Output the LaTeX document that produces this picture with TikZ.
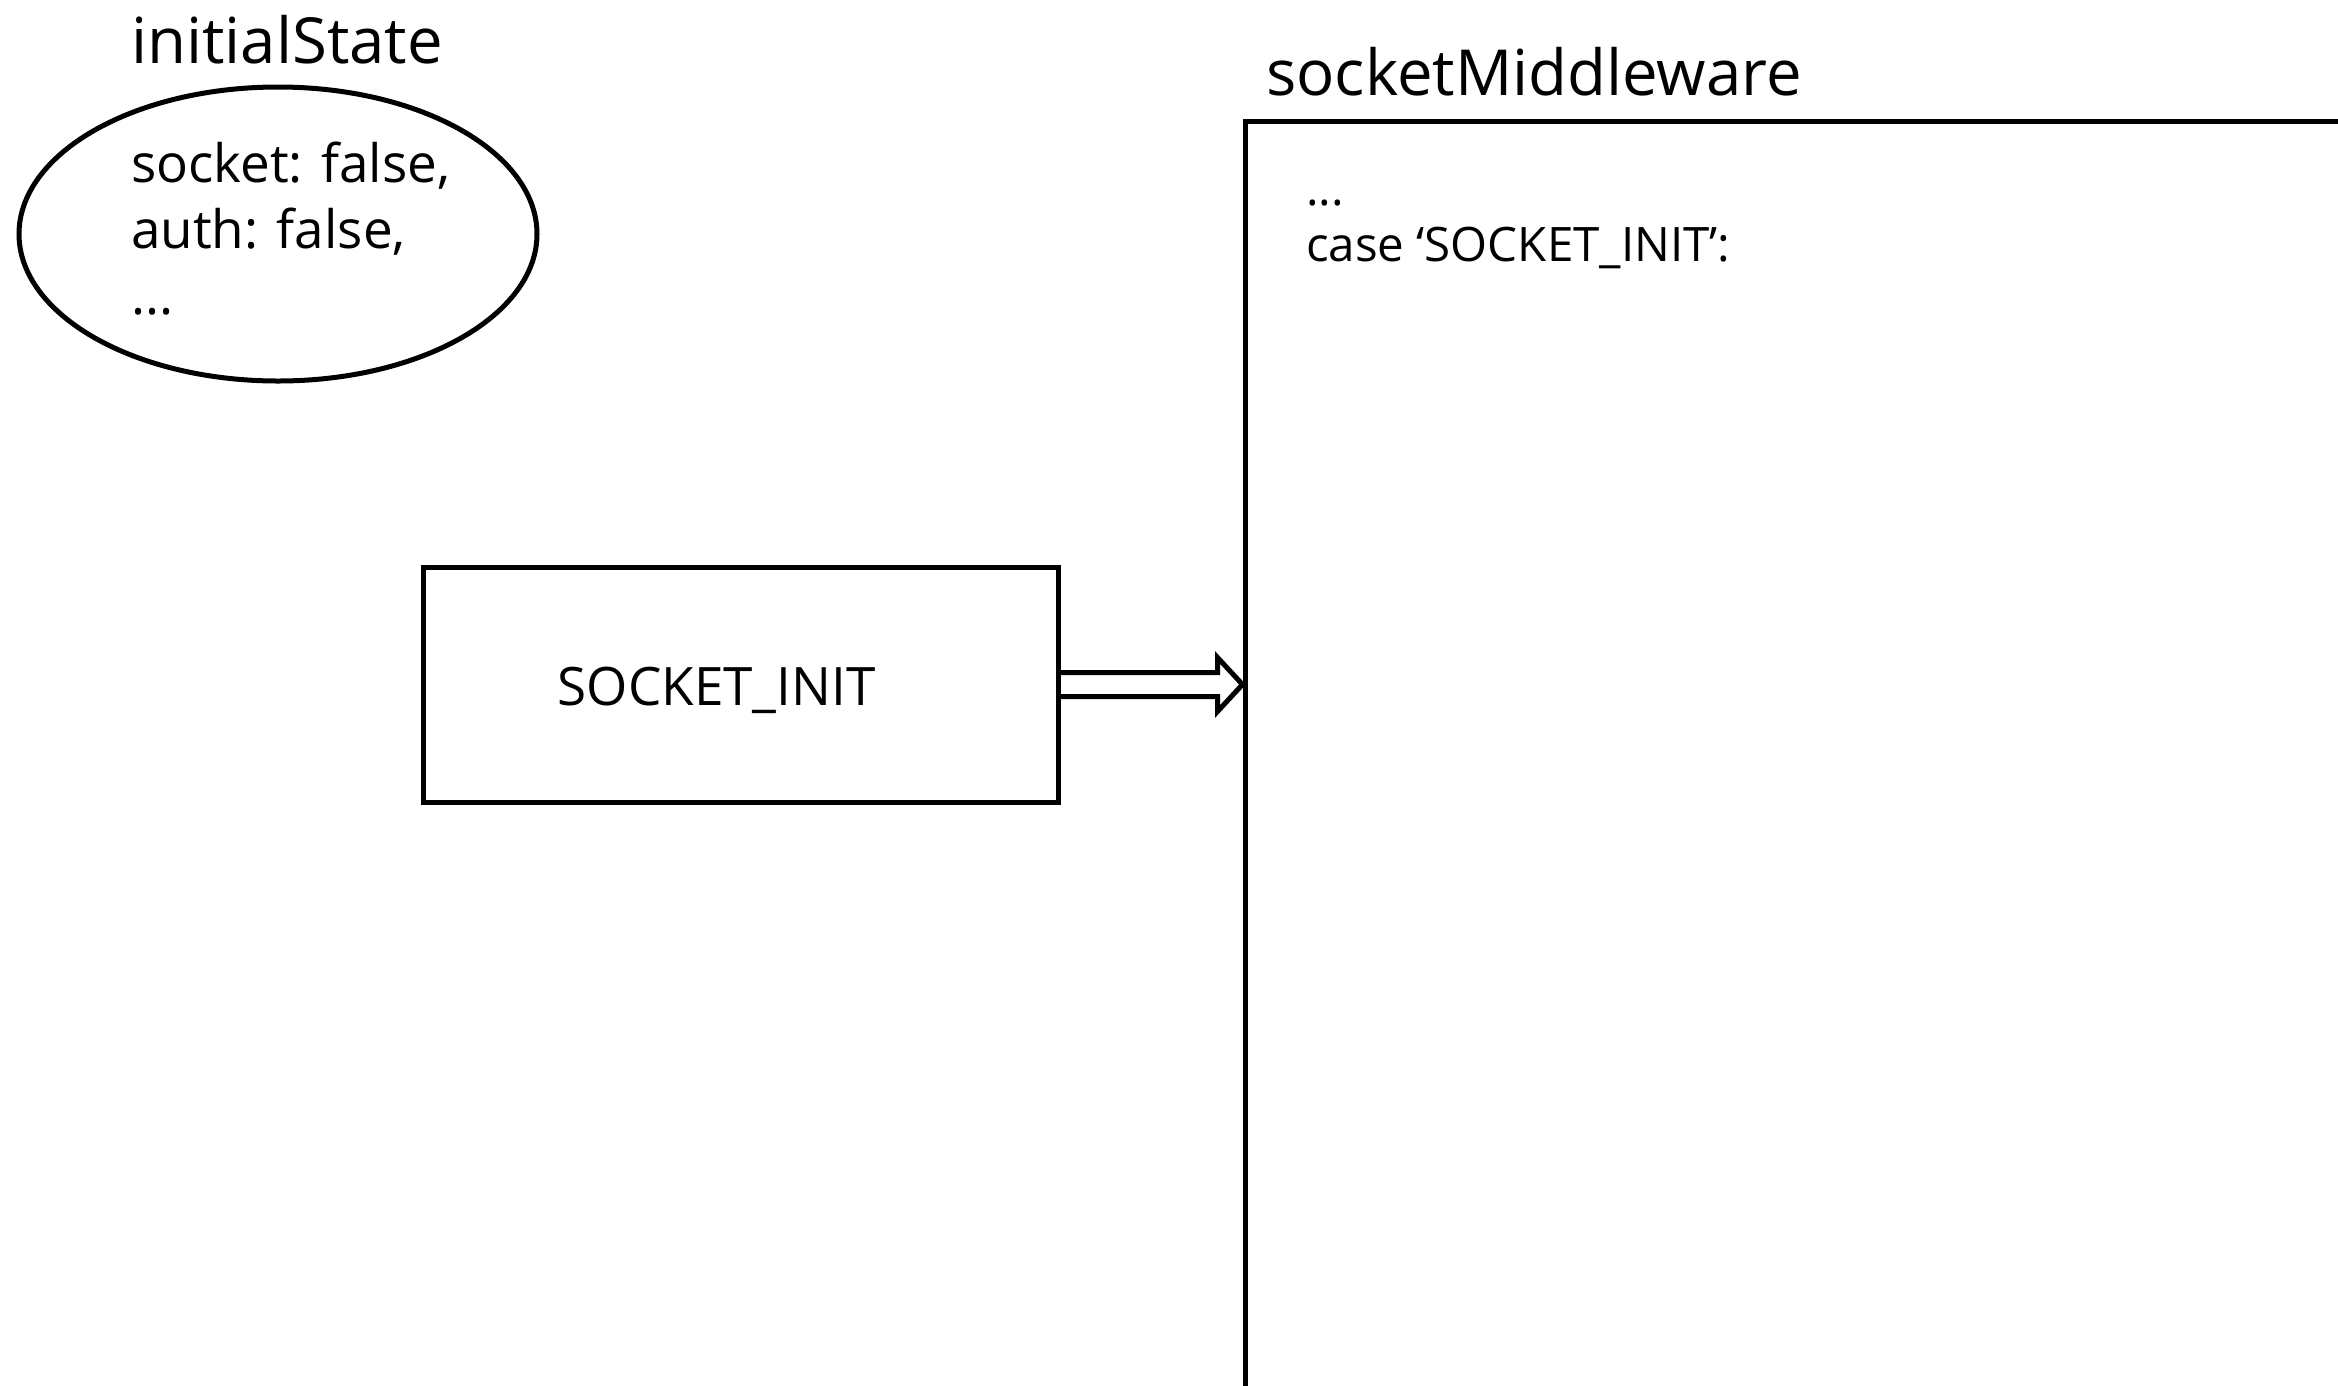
\documentclass[tikz,border=0pt]{standalone}
\usepackage{fontspec}
\setmainfont{Open Sans}
\usetikzlibrary{shapes.geometric,calc}
\tikzset{
  shape line/.style={draw=black, line width=5pt},
  title text/.style={inner sep=0pt, anchor=base west, font=\fontsize{63.5}{76}\selectfont},
  body text/.style={inner sep=0pt, anchor=base west, align=left, font=\fontsize{53}{66}\selectfont},
  code text/.style={inner sep=0pt, anchor=base west, align=left, font=\fontsize{47.5}{56}\selectfont},
}
\begin{document}
\begin{tikzpicture}[x=1pt,y=-1pt]
\useasboundingbox (0,0) rectangle (2338,1385);
\clip (0,0) rectangle (2338,1385);
% initial state
\node[title text] (sttitle) at (131,63) {initialState};
\node[shape line, ellipse, minimum width=518pt, minimum height=294pt, inner sep=0pt] (st) at (278,234) {};
\node[body text] (sttext) at (131,314) {socket: false,\\auth: false,\\...};
% middleware
\node[title text] (mwtitle) at (1266,95) {socketMiddleware};
\node[shape line, rectangle, minimum width=1155pt, minimum height=1329pt, inner sep=0pt] (mw) at (1822.5,785.5) {};
\node[code text] (mwtext) at (1306,261) {...\\case ‘SOCKET\_INIT’:};
% action box
\node[shape line, rectangle, minimum width=635pt, minimum height=235pt, inner sep=0pt] (init) at (740.5,684.5) {};
\node[inner sep=0pt, anchor=base, font=\fontsize{53}{65}\selectfont] (initlabel) at (716.5,705) {SOCKET\_INIT};
% hollow arrow
\coordinate (tip) at (mw.west |- init.east);
\draw[shape line, line join=miter]
  ($(init.east)+(0,-12)$) -- ($(tip)+(-25,-12)$) -- ($(tip)+(-25,-27)$)
  -- (tip) -- ($(tip)+(-25,27)$) -- ($(tip)+(-25,12)$) -- ($(init.east)+(0,12)$);
\end{tikzpicture}
\end{document}
